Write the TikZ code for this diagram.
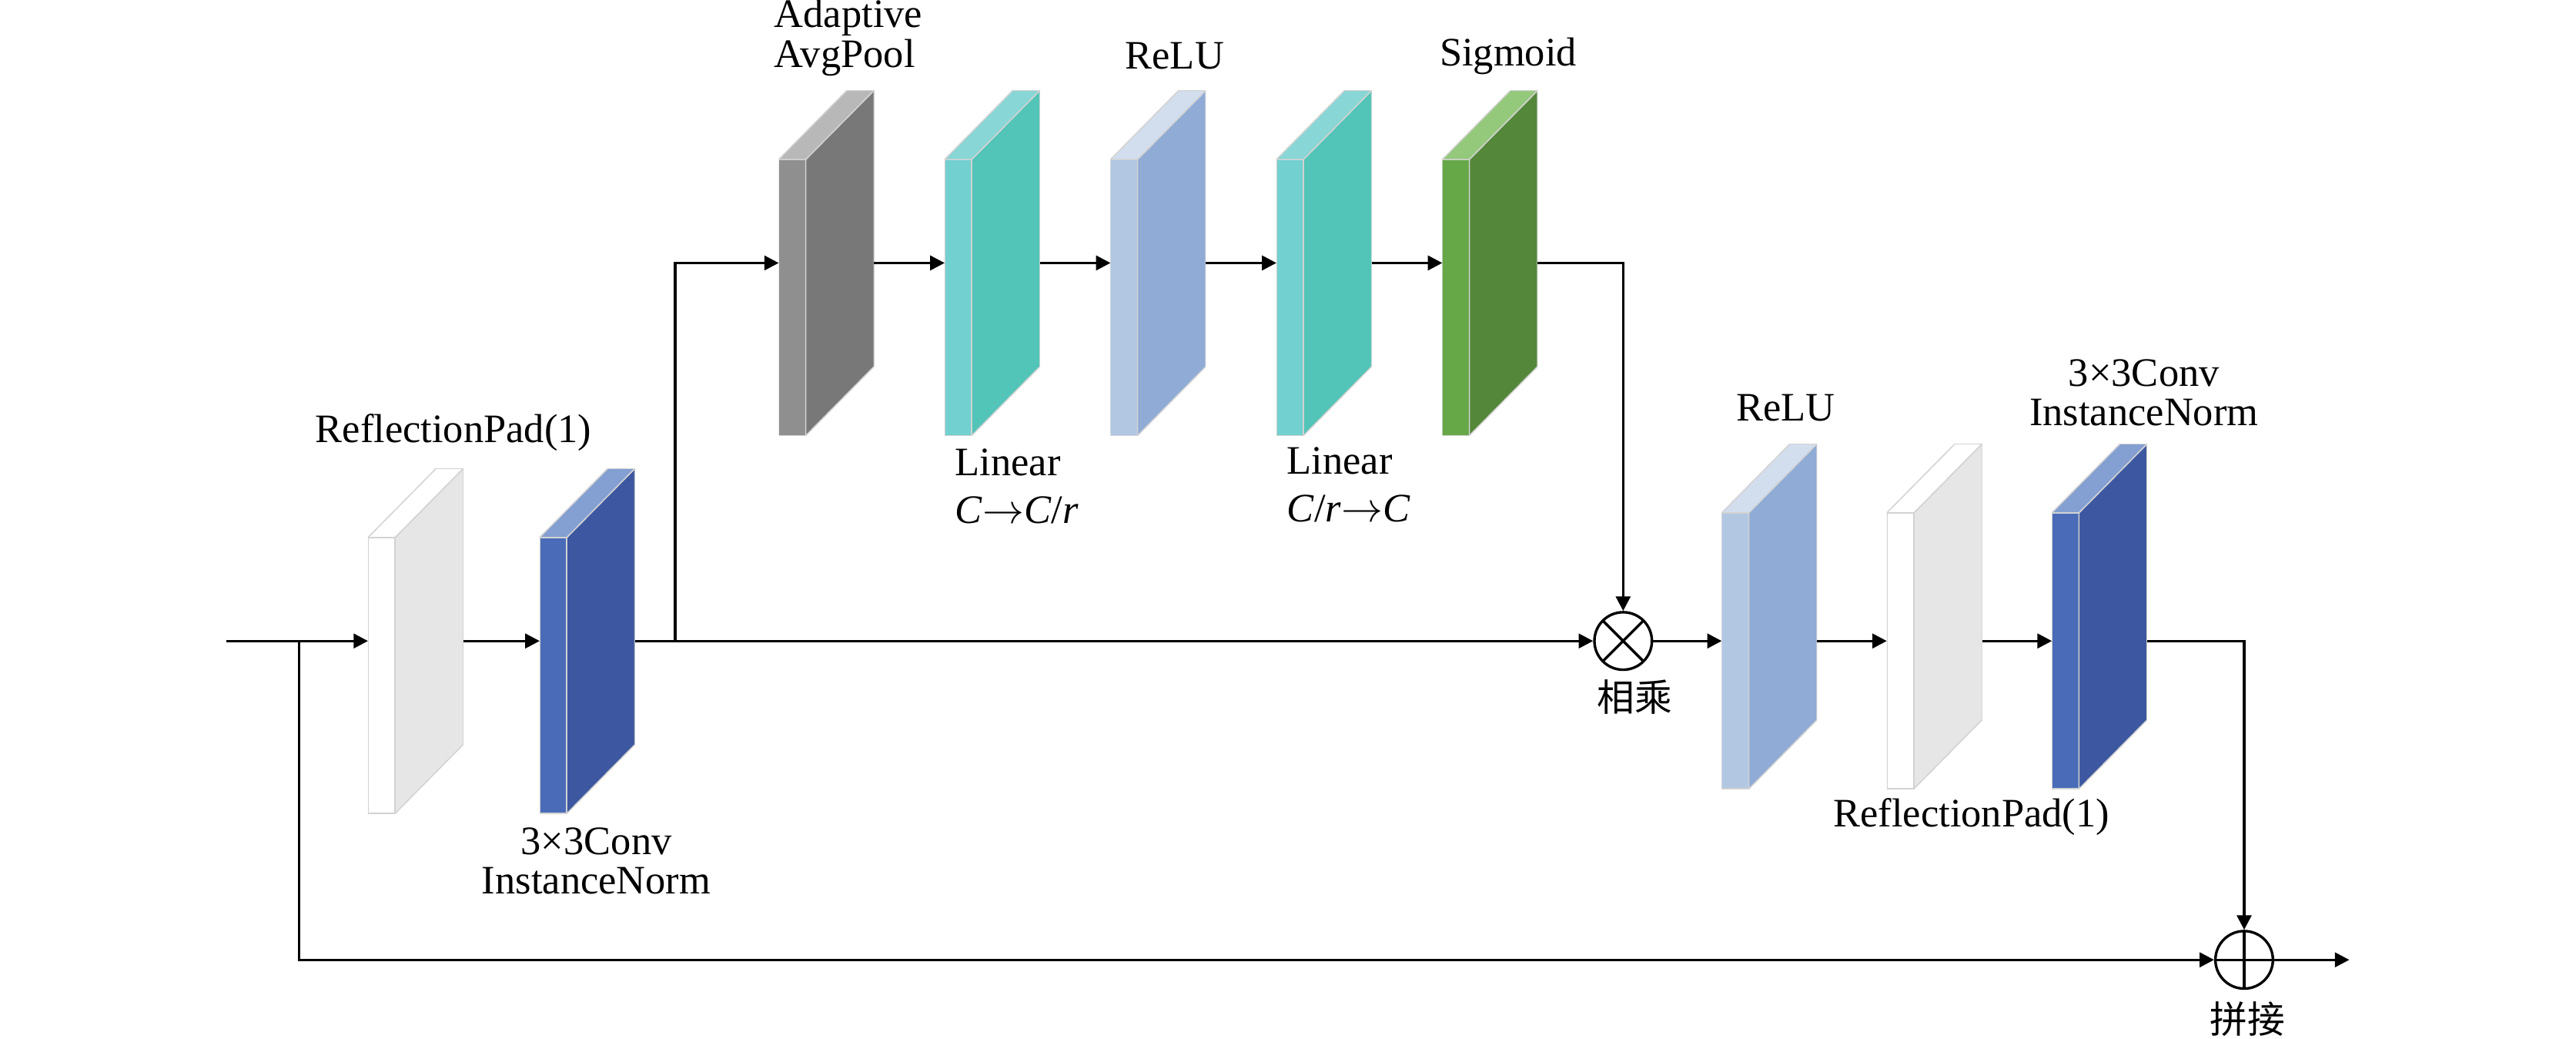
\documentclass[tikz,border=0pt]{standalone}
\usepackage{fontspec}
\setmainfont{Liberation Serif}
\newfontfamily\cjk{Noto Sans CJK SC}
\usepackage{xcolor}
\usetikzlibrary{arrows.meta,positioning}

\definecolor{padfront}{HTML}{FFFFFF}
\definecolor{padside}{HTML}{E6E6E6}
\definecolor{padtop}{HTML}{FFFFFF}
\definecolor{convfront}{HTML}{4A6CB8}
\definecolor{convside}{HTML}{3D58A0}
\definecolor{convtop}{HTML}{849FD2}
\definecolor{poolfront}{HTML}{8F8F8F}
\definecolor{poolside}{HTML}{787878}
\definecolor{pooltop}{HTML}{B8B8B8}
\definecolor{linfront}{HTML}{72D0D0}
\definecolor{linside}{HTML}{52C4B8}
\definecolor{lintop}{HTML}{88D6D6}
\definecolor{relufront}{HTML}{B2C7E2}
\definecolor{reluside}{HTML}{8FABD6}
\definecolor{relutop}{HTML}{D2DEEE}
\definecolor{sigfront}{HTML}{66A847}
\definecolor{sigside}{HTML}{55873A}
\definecolor{sigtop}{HTML}{94C97B}

\begin{document}
\begin{tikzpicture}[
    x=0.02cm, y=0.02cm,
    node distance=0.86cm,
    every node/.style={font=\fontsize{14pt}{13.7pt}\selectfont},
    slab/.style={
      minimum width=1.16cm, minimum height=4.2cm, inner sep=0pt, outer sep=0pt,
      path picture={
        \path (path picture bounding box.south west) coordinate (o);
        \begin{scope}[draw=gray!35, line width=0.4pt]
          \filldraw[fill=#1front] (o) rectangle ([xshift=0.33cm,yshift=3.36cm]o);
          \filldraw[fill=#1side] ([xshift=0.33cm]o) -- ([xshift=1.16cm,yshift=0.84cm]o)
            -- ([xshift=1.16cm,yshift=4.2cm]o) -- ([xshift=0.33cm,yshift=3.36cm]o) -- cycle;
          \filldraw[fill=#1top] ([yshift=3.36cm]o) -- ([xshift=0.33cm,yshift=3.36cm]o)
            -- ([xshift=1.16cm,yshift=4.2cm]o) -- ([xshift=0.83cm,yshift=4.2cm]o) -- cycle;
        \end{scope}}
    },
    op/.style={circle, draw, line width=0.9pt, minimum size=0.7cm, inner sep=0pt},
    mulop/.style={op, path picture={
        \draw[line width=0.9pt] (path picture bounding box.north west) -- (path picture bounding box.south east)
          (path picture bounding box.north east) -- (path picture bounding box.south west);}},
    addop/.style={op, path picture={
        \draw[line width=0.9pt] (path picture bounding box.north) -- (path picture bounding box.south)
          (path picture bounding box.west) -- (path picture bounding box.east);}},
    lbl/.style={inner sep=0pt, align=center},
    arr/.style={-{Triangle[length=5pt,width=5pt]}, line width=0.9pt}
  ]
    \useasboundingbox (0,0) rectangle (1568,632);

    % ── first conv block ──
    \node[slab=pad] (pad1) at (253,242) {};
    \node[slab=conv, right=0.93cm of pad1] (conv1) {};

    % ── channel attention branch ──
    \node[slab=pool] (pool) at (503,472) {};
    \node[slab=lin, right=of pool] (lin1) {};
    \node[slab=relu, right=of lin1] (relu1) {};
    \node[slab=lin, right=of relu1] (lin2) {};
    \node[slab=sig, right=of lin2] (sig) {};

    % ── operators ──
    \node[mulop] (mul) at (988,242) {};
    \node[addop] (add) at (1366,48) {};

    % ── second conv block ──
    \node[slab=relu] (relu2) at (1077,257) {};
    \node[slab=pad, right=0.85cm of relu2] (pad2) {};
    \node[slab=conv, right=0.85cm of pad2] (conv2) {};

    % ── labels ──
    \node[lbl] (pad1lbl) at (276,369) {ReflectionPad(1)};
    \node[lbl] (conv1lbl) at (363,108) {3×3Conv\\InstanceNorm};
    \node[lbl, anchor=west, align=left] (poollbl) at (471,609) {Adaptive\\AvgPool};
    \node[lbl] (relu1lbl) at (715,598) {ReLU};
    \node[lbl] (siglbl) at (918,598) {Sigmoid};
    \node[lbl, anchor=west, align=left] (lin1lbl) at (581,336) {Linear\\[2.8pt]\textit{C}$\rightarrow$\textit{C}/\textit{r}};
    \node[lbl, anchor=west, align=left] (lin2lbl) at (783,337) {Linear\\[2.8pt]\textit{C}/\textit{r}$\rightarrow$\textit{C}};
    \node[lbl, font=\cjk\fontsize{13pt}{13pt}\selectfont] (mullbl) at (995,208) {相乘};
    \node[lbl] (relu2lbl) at (1087,384) {ReLU};
    \node[lbl] (conv2lbl) at (1305,393) {3×3Conv\\InstanceNorm};
    \node[lbl] (pad2lbl) at (1200,135) {ReflectionPad(1)};
    \node[lbl, font=\cjk\fontsize{13pt}{13pt}\selectfont] (addlbl) at (1368,12) {拼接};

    % ── connectors ──
    \coordinate (in) at (138,242);
    \coordinate (skip) at (182,242);
    \coordinate (tap) at (411,242);
    \coordinate (out) at (1430,48);

    \draw[arr] (in) -- (pad1.west);
    \draw[arr] (pad1.east) -- (conv1.west);
    \draw[arr] (conv1.east) -- (mul.west);
    \draw[arr] (tap) |- (pool.west);
    \draw[arr] (pool.east) -- (lin1.west);
    \draw[arr] (lin1.east) -- (relu1.west);
    \draw[arr] (relu1.east) -- (lin2.west);
    \draw[arr] (lin2.east) -- (sig.west);
    \draw[arr] (sig.east) -| (mul.north);
    \draw[arr] (mul.east) -- (mul.east -| relu2.west);
    \draw[arr] (relu2.east |- mul) -- (pad2.west |- mul);
    \draw[arr] (pad2.east |- mul) -- (conv2.west |- mul);
    \draw[arr] (conv2.east |- mul) -| (add.north);
    \draw[arr] (skip) |- (add.west);
    \draw[arr] (add.east) -- (out);

  \end{tikzpicture}
\end{document}
